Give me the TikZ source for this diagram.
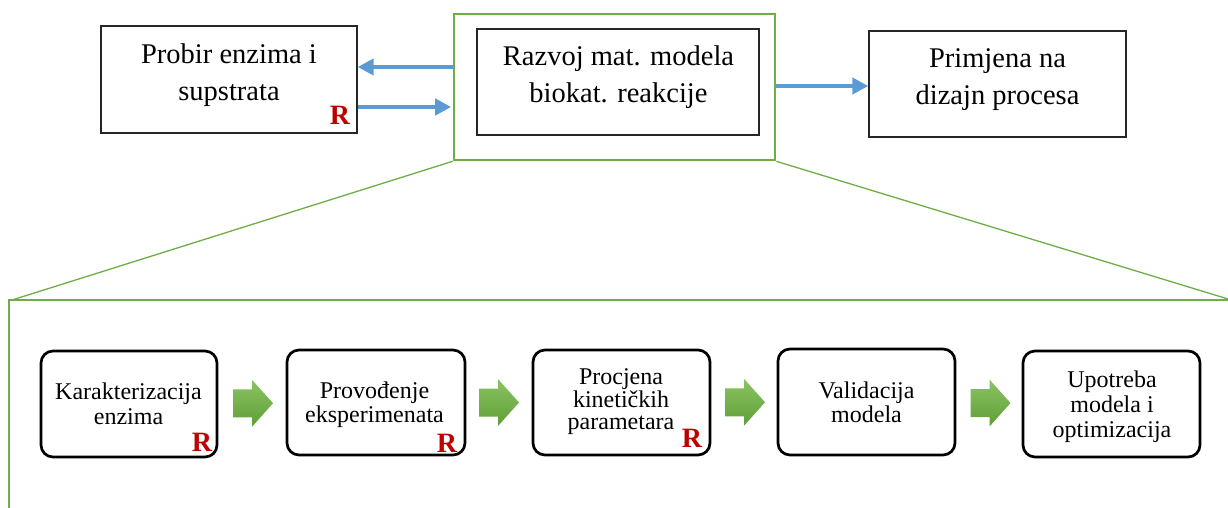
\documentclass[tikz,border=0pt]{standalone}
\usepackage{fontspec}
\setmainfont{Liberation Serif}
\usetikzlibrary{arrows.meta,calc}
\definecolor{lgreen}{HTML}{70AD47}
\definecolor{lblue}{HTML}{5B9BD5}
\definecolor{rred}{HTML}{C00000}
\definecolor{gtop}{HTML}{8BC462}
\definecolor{gbot}{HTML}{5F9E37}
\begin{document}
\begin{tikzpicture}[x=1pt,y=-1pt,
  topbox/.style={draw=black!85,line width=1.3pt,inner sep=0pt},
  greenbox/.style={draw=lgreen,line width=2.6pt,inner sep=0pt},
  roundbox/.style={draw=black,line width=2.7pt,rounded corners=12pt,inner sep=0pt},
  toptext/.style={align=center,inner sep=0pt,font=\fontsize{28.5}{37}\selectfont},
  bottext/.style={align=center,inner sep=0pt,font=\fontsize{24}{24}\selectfont},
  rmark/.style={inner sep=0pt,text=rred,font=\fontsize{28}{28}\selectfont\bfseries},
  bluearrow/.style={draw=lblue,line width=4pt,-{Triangle[length=16pt,width=16pt]}},
  gline/.style={draw=lgreen,line width=1.3pt},
  gframe/.style={draw=lgreen,line width=2.6pt},
  blockarr/.pic={\path[top color=gtop,bottom color=gbot,draw=none]
     (-20,-14) -- (-1,-14) -- (-1,-23.5) -- (20,0) -- (-1,23.5) -- (-1,14) -- (-20,14) -- cycle;}
]
\useasboundingbox (0,0) rectangle (1228,508);

% top row
\node[topbox,minimum width=256pt,minimum height=107pt] (b1) at (229,79.5) {};
\node[toptext] (t1) at (229,74.9) {Probir enzima i\\supstrata};
\node[rmark] (r1) at (340,115) {R};

\node[greenbox,minimum width=321pt,minimum height=146pt] (g) at (614.5,87) {};
\node[topbox,minimum width=282pt,minimum height=106pt] (b2) at (618,82) {};
\node[toptext] (t2) at (618.5,76.9) {Razvoj mat. modela\\biokat. reakcije};

\node[topbox,minimum width=257pt,minimum height=106pt] (b3) at (997.5,84) {};
\node[toptext] (t3) at (997.5,79.9) {Primjena na\\dizajn procesa};

\draw[bluearrow] (g.west|-0,67) -- (b1.east|-0,67);
\draw[bluearrow] (b1.east|-0,107) -- ($(g.west|-0,107)+(-1.5,0)$);
\draw[bluearrow] (g.east|-0,86) -- (b3.west|-0,86);

% zoom frame
\coordinate (c1) at (9,508);
\coordinate (c2) at (9,300);
\coordinate (c3) at (1228,300);
\coordinate (c4) at (12,300);
\coordinate (c5) at (1228,299);
\draw[gline] (g.south west) -- (c4);
\draw[gline] (g.south east) -- (c5);
\draw[gframe] (c1) -- (c2) -- (c3);

% bottom row
\node[roundbox,minimum width=176pt,minimum height=106pt] (A) at (129,404) {};
\node[bottext,font=\fontsize{24}{25}\selectfont] (tA) at (128.5,403.3) {Karakterizacija\\enzima};
\node[rmark] (rA) at (202,442) {R};

\node[roundbox,minimum width=178pt,minimum height=105pt] (B) at (376,402.5) {};
\node[bottext] (tB) at (374.5,404.4) {Provođenje\\eksperimenata};
\node[rmark] (rB) at (447,443) {R};

\node[roundbox,minimum width=177pt,minimum height=105pt] (C) at (621.5,402.5) {};
\node[bottext,font=\fontsize{24}{22.5}\selectfont] (tC) at (621,401.9) {Procjena\\kinetičkih\\parametara};
\node[rmark] (rC) at (692,438) {R};

\node[roundbox,minimum width=177pt,minimum height=106pt] (D) at (866.5,402) {};
\node[bottext] (tD) at (866.5,401.8) {Validacija\\modela};

\node[roundbox,minimum width=177pt,minimum height=106pt] (E) at (1111.5,404) {};
\node[bottext,font=\fontsize{24}{25}\selectfont] (tE) at (1112,406.4) {Upotreba\\modela i\\optimizacija};

\pic at ($(A.east)!0.5!(B.west)+(1,0)$) {blockarr};
\pic at ($(B.east)!0.5!(C.west)$) {blockarr};
\pic at ($(C.east)!0.5!(D.west)+(1,0)$) {blockarr};
\pic at ($(D.east)!0.5!(E.west)+(1.5,0)$) {blockarr};
\end{tikzpicture}
\end{document}
